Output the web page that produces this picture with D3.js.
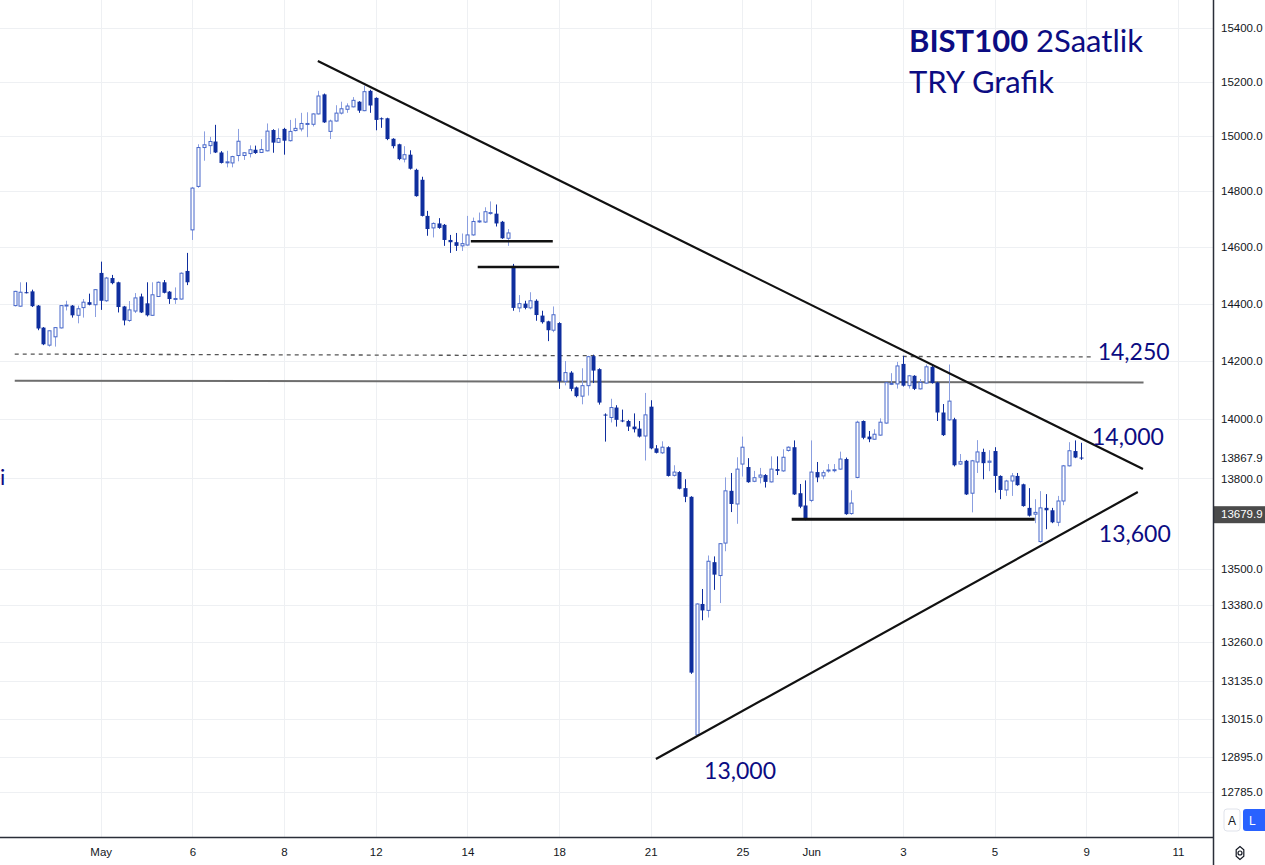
<!DOCTYPE html>
<html>
<head>
<meta charset="utf-8">
<script src="https://cdn.jsdelivr.net/npm/d3@7/dist/d3.min.js"></script>
<style>
body { margin: 0; background: #fff; }
svg text { font-family: "Liberation Sans", Arial, sans-serif; }
</style>
</head>
<body>
<div id="chart"></div>
<script>
// bar index 0 = first bar of May 4, 8 bars per session
const startIdx = -15;
const ohlc = [
  [14393,14445,14390,14443],[14391,14475,14389,14440],[14440,14475,14436,14438],[14443,14449,14388,14391],
  [14393,14395,14307,14313],[14316,14318,14255,14258],[14255,14306,14250,14305],[14284,14318,14250,14316],
  [14315,14395,14313,14393],[14393,14410,14376,14395],[14393,14395,14351,14359],[14359,14393,14331,14382],
  [14386,14416,14351,14405],[14405,14435,14394,14396],[14396,14451,14353,14449],
  // May 4
  [14508,14548,14378,14410],[14410,14494,14406,14490],[14490,14501,14468,14472],[14475,14477,14369,14388],
  [14390,14392,14324,14341],[14341,14409,14336,14378],[14374,14437,14367,14420],[14425,14435,14367,14369],
  [14401,14475,14355,14359],[14359,14475,14357,14431],[14425,14478,14423,14475],[14475,14483,14436,14438],
  [14442,14444,14399,14416],[14416,14457,14399,14418],[14416,14510,14414,14507],[14515,14579,14465,14475],
  // May 6
  [14661,14815,14625,14811],[14817,14970,14812,14958],[14958,15017,14910,14968],[14965,14997,14934,14980],
  [14980,15041,14938,14940],[14940,14945,14900,14902],[14904,14946,14886,14906],[14902,14928,14886,14925],
  [14929,15026,14908,14981],[14929,14941,14913,14939],[14936,14966,14922,14950],[14950,14965,14935,14938],
  [14940,14989,14938,14951],[14946,15046,14944,15018],[15022,15025,14939,14976],[14977,15028,14975,14991],
  // May 8
  [15026,15030,14932,14983],[14983,15059,14980,15017],[15020,15065,15017,15028],[15026,15085,15017,15046],
  [15044,15087,14996,15046],[15043,15083,15035,15081],[15081,15166,15079,15147],[15153,15156,15048,15050],
  [15017,15060,14989,15055],[15055,15113,15053,15084],[15084,15126,15079,15100],[15098,15120,15085,15110],
  [15107,15143,15105,15131],[15126,15128,15085,15093],[15093,15185,15091,15163],[15166,15170,15085,15112],
  // May 12
  [15140,15142,15021,15059],[15065,15068,15030,15063],[15065,15067,14985,14989],[14990,14992,14955,14963],
  [14970,14972,14912,14916],[14916,14963,14904,14932],[14932,14948,14878,14881],[14877,14881,14780,14782],
  [14841,14852,14709,14711],[14711,14729,14640,14664],[14668,14688,14634,14684],[14684,14703,14665,14668],
  [14679,14682,14604,14625],[14625,14643,14579,14617],[14617,14650,14586,14604],[14604,14648,14586,14612],
  // May 14
  [14607,14711,14605,14643],[14643,14705,14640,14691],[14691,14723,14686,14693],[14689,14742,14686,14726],
  [14721,14763,14715,14723],[14719,14752,14673,14684],[14690,14693,14629,14631],[14631,14664,14604,14650],
  [14533,14540,14375,14385],[14385,14430,14370,14400],[14400,14410,14380,14385],[14385,14440,14380,14410],
  [14410,14415,14340,14360],[14358,14375,14330,14335],[14338,14340,14269,14307],[14307,14390,14300,14361],
  // May 18
  [14332,14335,14104,14130],[14130,14200,14116,14160],[14160,14165,14096,14104],[14109,14112,14075,14079],
  [14079,14175,14051,14115],[14115,14218,14081,14215],[14217,14222,14124,14167],[14172,14175,14050,14057],
  [14016,14020,13924,14013],[14006,14070,13989,14040],[14040,14048,13975,13998],[13996,14033,13990,13993],
  [13994,13998,13960,13975],[13975,14020,13955,13966],[13968,13994,13938,13941],[13943,14090,13860,14015],
  // May 21
  [14043,14065,13898,13901],[13901,13912,13884,13886],[13886,13925,13882,13905],[13905,13908,13806,13808],
  [13810,13844,13806,13821],[13821,13824,13763,13765],[13767,13797,13720,13738],[13738,13740,13158,13162],
  [12964,13386,12960,13384],[13384,13433,13331,13363],[13363,13543,13340,13524],[13521,13540,13430,13480],
  [13477,13584,13387,13582],[13584,13803,13557,13758],[13758,13818,13687,13714],[13714,13871,13648,13831],
  // May 25
  [13848,13941,13806,13905],[13838,13868,13785,13787],[13790,13825,13787,13802],[13804,13835,13783,13811],
  [13811,13814,13769,13788],[13788,13874,13786,13831],[13831,13874,13811,13825],[13825,13898,13822,13871],
  [13894,13908,13890,13905],[13905,13928,13744,13746],[13750,13781,13700,13705],[13709,13793,13660,13665],
  // Jun 1
  [13726,13928,13720,13821],[13821,13855,13787,13803],[13808,13827,13797,13819],[13826,13848,13819,13828],
  [13828,13848,13820,13829],[13831,13890,13829,13865],[13865,13870,13678,13680],[13682,13760,13678,13717],
  [13803,13995,13800,13990],[13994,13996,13932,13937],[13941,13960,13922,13932],[13932,13966,13930,13949],
  [13946,14003,13944,13990],[13987,14127,13985,14125],[14121,14158,14117,14123],[14121,14197,14105,14183],
  // Jun 3
  [14190,14218,14112,14115],[14115,14152,14105,14149],[14149,14151,14100,14104],[14104,14138,14102,14126],
  [14124,14188,14122,14180],[14180,14188,14122,14124],[14126,14128,13994,14023],[14023,14052,13943,13946],
  [13998,14188,13995,14062],[14000,14005,13840,13844],[13848,13882,13845,13856],[13859,13862,13744,13746],
  [13750,13862,13686,13859],[13855,13929,13818,13889],[13889,13900,13797,13851],[13854,13895,13824,13858],
  // Jun 5
  [13892,13905,13752,13808],[13808,13810,13730,13761],[13761,13795,13741,13791],[13791,13818,13741,13808],
  [13808,13818,13775,13777],[13780,13782,13705,13707],[13701,13767,13672,13675],[13680,13730,13650,13686],
  [13589,13757,13585,13701],[13701,13747,13630,13693],[13693,13701,13650,13653],[13653,13741,13640,13724],
  [13724,13845,13710,13842],[13842,13922,13840,13893],[13892,13928,13868,13870],[13870,13920,13862,13867.9]
];

const dateTicks = [0, 16, 32, 48, 64, 80, 96, 112, 124, 140, 156, 172, 188];
const dateLabels = ["May", "6", "8", "12", "14", "18", "21", "25", "Jun", "3", "5", "9", "11"];
const priceTicks = [15400, 15200, 15000, 14800, 14600, 14400, 14200, 14000, 13800,
  13500, 13380, 13260, 13135, 13015, 12895, 12785];
const lastPrice = 13867.9;
const cursorPrice = 13679.9;

// drawn lines: [barIndex, price]
const resistanceLine = [[37.9, 15277], [181.9, 13831]];
const supportLine = [[96.9, 12888], [181.0, 13754]];
const dashedLevel = [[-15, 14224], [173.2, 14214]];
const greyLevel = [[-15, 14132], [182, 14126]];
const gapTop = [[64.6, 14620], [78.9, 14620]];
const gapBottom = [[65.8, 14529], [80, 14529]];
const baseLine = [[120.6, 13663], [163, 13663]];
const levelLabels = [
  [174.0, 14203, "14,250"],
  [173.0, 13913, "14,000"],
  [174.2, 13588, "13,600"],
  [105.3, 12825, "13,000"]
];

const W = 1265, H = 865;
const plotW = 1213, plotH = 837;
const navy = "#0c0c82";
const downCol = "#0f2e9e";
const upCol = "#4767c9";
const upWick = "#8b9fe0";

const x = d3.scaleLinear().domain([-16, 194]).range([9, 1212.3]);
const y = d3.scaleLog().domain([12645.4, 15505.4]).range([plotH, 0]);

const svg = d3.select("#chart").append("svg")
  .attr("width", W).attr("height", H);

svg.append("rect").attr("width", W).attr("height", H).attr("fill", "#fff");

svg.append("clipPath").attr("id", "plotclip")
  .append("rect").attr("width", plotW).attr("height", plotH);

const plot = svg.append("g").attr("clip-path", "url(#plotclip)");

// grid
plot.selectAll(".hgrid").data(priceTicks).enter().append("line")
  .attr("x1", 0).attr("x2", plotW)
  .attr("y1", d => Math.round(y(d)) + 0.5).attr("y2", d => Math.round(y(d)) + 0.5)
  .attr("stroke", "#eef0f3").attr("stroke-width", 1);
plot.selectAll(".vgrid").data(dateTicks).enter().append("line")
  .attr("y1", 0).attr("y2", plotH)
  .attr("x1", d => Math.round(x(d)) + 0.5).attr("x2", d => Math.round(x(d)) + 0.5)
  .attr("stroke", "#eef0f3").attr("stroke-width", 1);

// reference lines under the candles
function seg(g, pts, stroke, width, dash) {
  g.append("line")
    .attr("x1", x(pts[0][0])).attr("y1", y(pts[0][1]))
    .attr("x2", x(pts[1][0])).attr("y2", y(pts[1][1]))
    .attr("stroke", stroke).attr("stroke-width", width)
    .attr("stroke-dasharray", dash || null);
}
seg(plot, greyLevel, "#6e6e6e", 2);
seg(plot, dashedLevel, "#555", 1.3, "4,4");

// candles
const bars = ohlc.map((d, k) => ({ i: startIdx + k, o: d[0], h: d[1], l: d[2], c: d[3] }));
const cg = plot.selectAll(".candle").data(bars).enter().append("g");

cg.append("line")
  .attr("x1", d => Math.round(x(d.i)) + 0.5).attr("x2", d => Math.round(x(d.i)) + 0.5)
  .attr("y1", d => y(Math.max(d.h, d.o, d.c))).attr("y2", d => y(Math.min(d.l, d.o, d.c)))
  .attr("stroke", d => d.c >= d.o ? upWick : downCol).attr("stroke-width", 1);

cg.append("rect")
  .attr("x", d => d.c >= d.o ? Math.round(x(d.i)) - 1 : Math.round(x(d.i)) - 1.5)
  .attr("width", d => d.c >= d.o ? 3 : 4)
  .attr("y", d => y(Math.max(d.o, d.c)))
  .attr("height", d => Math.max(1, y(Math.min(d.o, d.c)) - y(Math.max(d.o, d.c))))
  .attr("fill", d => d.c >= d.o ? "#fff" : downCol)
  .attr("stroke", d => d.c >= d.o ? upCol : "none")
  .attr("stroke-width", 1);

// trend lines and levels
seg(plot, resistanceLine, "#111", 2.2);
seg(plot, supportLine, "#111", 2.2);
seg(plot, gapTop, "#111", 2.5);
seg(plot, gapBottom, "#111", 2.5);
seg(plot, baseLine, "#111", 3);

plot.selectAll(".lvl").data(levelLabels).enter().append("text")
  .attr("x", d => x(d[0])).attr("y", d => y(d[1]))
  .attr("fill", navy)
  .style("font-family", "Lato, 'Open Sans', sans-serif")
  .style("font-size", "23px")
  .text(d => d[2]);

// title
const title = svg.append("text").attr("x", 909).attr("y", 52)
  .attr("fill", navy).style("font-family", "Lato, 'Open Sans', sans-serif").style("font-size", "31px");
title.append("tspan").attr("font-weight", "bold").text("BIST100");
title.append("tspan").text(" 2Saatlik");
svg.append("text").attr("x", 909).attr("y", 93)
  .attr("fill", navy).style("font-family", "Lato, 'Open Sans', sans-serif").style("font-size", "31px")
  .text("TRY Grafik");

svg.append("text").attr("x", 0).attr("y", 485).attr("fill", navy)
  .style("font-family", "Lato, sans-serif").style("font-size", "22px").text("i");

// right price scale
svg.append("rect").attr("x", plotW).attr("y", 0).attr("width", W - plotW).attr("height", H).attr("fill", "#fff");
const yAxis = d3.axisRight(y).tickValues(priceTicks).tickFormat(d3.format(".1f")).tickSize(0).tickPadding(8);
const ya = svg.append("g").attr("transform", "translate(" + plotW + ",0)").call(yAxis);
ya.select(".domain").remove();
ya.selectAll("text").attr("fill", "#131722").style("font-size", "11.5px");

// last price and cursor labels
svg.append("text").attr("x", plotW + 8).attr("y", y(lastPrice) + 4)
  .attr("fill", "#131722").style("font-size", "11.5px").text(d3.format(".1f")(lastPrice));
svg.append("rect").attr("x", plotW + 1).attr("y", y(cursorPrice) - 8).attr("width", W - plotW).attr("height", 17)
  .attr("fill", "#4b4b4b");
svg.append("text").attr("x", plotW + 8).attr("y", y(cursorPrice) + 4)
  .attr("fill", "#fff").style("font-size", "11.5px").text(d3.format(".1f")(cursorPrice));

// time scale
const xAxis = d3.axisBottom(x).tickValues(dateTicks).tickFormat((d, k) => dateLabels[k]).tickSize(0).tickPadding(11);
const xa = svg.append("g").attr("transform", "translate(0," + plotH + ")").call(xAxis);
xa.select(".domain").remove();
xa.selectAll("text").attr("fill", "#131722").style("font-size", "11.5px");

svg.append("line").attr("x1", 0).attr("x2", plotW + 1).attr("y1", plotH + 0.5).attr("y2", plotH + 0.5)
  .attr("stroke", "#2a2e39").attr("stroke-width", 1.5);
svg.append("line").attr("x1", plotW + 0.5).attr("x2", plotW + 0.5).attr("y1", 0).attr("y2", H)
  .attr("stroke", "#2a2e39").attr("stroke-width", 1.5);

// A / L buttons and settings icon
svg.append("rect").attr("x", 1224).attr("y", 809).attr("width", 16).attr("height", 22).attr("rx", 3)
  .attr("fill", "#fff").attr("stroke", "#e0e3eb");
svg.append("text").attr("x", 1232).attr("y", 825).attr("text-anchor", "middle")
  .attr("fill", "#131722").style("font-size", "12px").text("A");
svg.append("rect").attr("x", 1243).attr("y", 809).attr("width", 26).attr("height", 22).attr("rx", 3)
  .attr("fill", "#2962ff");
svg.append("text").attr("x", 1249).attr("y", 825)
  .attr("fill", "#fff").style("font-size", "12px").text("L");

const hex = d3.range(6).map(k => {
  const a = Math.PI / 3 * k + Math.PI / 2;
  return [1240 + 5.5 * Math.cos(a) * 0.8, 853 + 6.5 * Math.sin(a)];
});
svg.append("path").attr("d", "M" + hex.join("L") + "Z").attr("fill", "none").attr("stroke", "#131722").attr("stroke-width", 1.2);
svg.append("circle").attr("cx", 1240).attr("cy", 853).attr("r", 2).attr("fill", "none").attr("stroke", "#131722").attr("stroke-width", 1.2);
</script>
</body>
</html>
